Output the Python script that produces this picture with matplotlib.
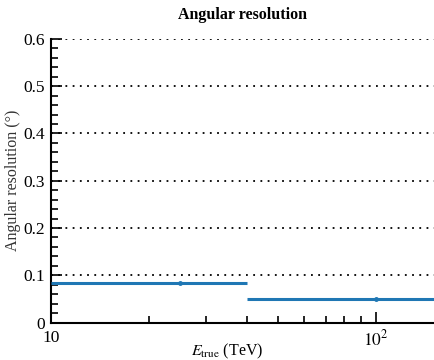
import matplotlib
matplotlib.use("Agg")
import matplotlib.pyplot as plt
from matplotlib.ticker import MultipleLocator, LogLocator, FixedLocator

plt.rcParams['font.family'] = ['Liberation Serif', 'DejaVu Serif']
plt.rcParams['mathtext.fontset'] = 'stix'

e_center = [25, 100]
e_low = [10, 40]
e_high = [40, 160]
ang_res = [0.083, 0.049]

title = "Angular resolution"
xlabel = r"$E_{\rm true}$ (TeV)"
ylabel = "Angular resolution (°)"

fig = plt.figure(figsize=(4.35, 3.6), dpi=100)
ax = fig.add_axes([0.117, 0.104, 0.883, 0.788])

xerr = [[c - l for c, l in zip(e_center, e_low)], [h - c for c, h in zip(e_center, e_high)]]
ax.errorbar(e_center, ang_res, xerr=xerr, fmt='o', ms=2.5, color='#1f77b4',
            elinewidth=2.2, capsize=0, zorder=3)

ax.set_xscale('log')
ax.set_xlim(10, 152)
ax.set_ylim(0, 0.6)
ax.yaxis.set_major_locator(MultipleLocator(0.1))
ax.yaxis.set_minor_locator(MultipleLocator(0.02))
ax.yaxis.set_major_formatter(matplotlib.ticker.FuncFormatter(lambda v, p: '0' if abs(v) < 1e-9 else f'{v:.1f}'))
ax.xaxis.set_major_locator(FixedLocator([10, 100]))
ax.xaxis.set_major_formatter(matplotlib.ticker.FuncFormatter(lambda v, p: '10' if v == 10 else r'$10^2$'))
ax.xaxis.set_minor_locator(LogLocator(base=10, subs=range(2, 10)))
ax.xaxis.set_minor_formatter(matplotlib.ticker.NullFormatter())

ax.tick_params(which='both', direction='in', top=False, right=False, labelsize=12.5, width=1.2)
ax.tick_params(which='major', length=8)
ax.tick_params(which='minor', length=5)
ax.tick_params(axis='x', pad=5)
ax.tick_params(axis='y', pad=4)

for s in ['top', 'right']:
    ax.spines[s].set_visible(False)
for s in ['left', 'bottom']:
    ax.spines[s].set_linewidth(1.5)

ax.yaxis.grid(True, which='major', linestyle=(0, (1, 3)), color='black', linewidth=1.3)
ax.set_axisbelow(False)

ax.set_title(title, fontsize=11.5, fontweight='bold', pad=14)
ax.set_xlabel(xlabel, fontsize=11.5, va='center')
ax.xaxis.set_label_coords(0.46, -0.1)
ax.set_ylabel(ylabel, fontsize=11.5, labelpad=2, color='#333333')

fig.savefig('out.png', dpi=100)
